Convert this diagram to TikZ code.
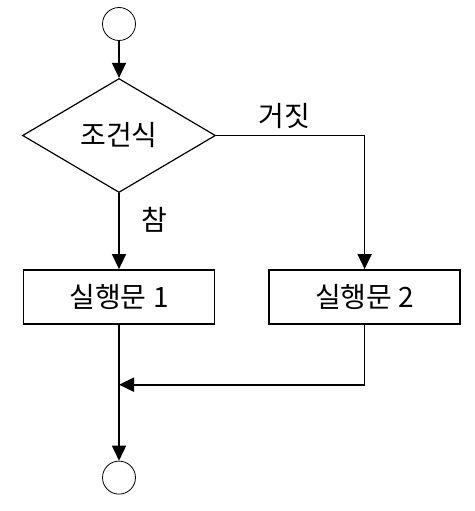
\documentclass[tikz,border=0pt]{standalone}
\usepackage{fontspec}
\setmainfont{Noto Sans CJK KR}
\usepackage{tikz}
\usetikzlibrary{shapes.geometric,arrows.meta,positioning,calc}
\tikzset{
  term/.style = {circle, draw=black, fill=white, line width=0.8bp, minimum size=33bp, inner sep=0pt},
  dec/.style  = {diamond, draw=black, line width=1.2bp, minimum width=193bp, minimum height=114bp,
                 inner sep=0pt, font=\fontsize{28bp}{32bp}\selectfont},
  proc/.style = {rectangle, draw=black, line width=1.6bp, minimum width=191bp, minimum height=54bp,
                 inner sep=0pt, font=\fontsize{28bp}{32bp}\selectfont},
  fl/.style   = {-{Triangle[length=15bp,width=14bp]}, draw=black, line width=1.6bp},
  lab/.style  = {font=\fontsize{28bp}{32bp}\selectfont, inner sep=0pt},
}
\begin{document}
\begin{tikzpicture}[x=1bp, y=-1bp]
  \useasboundingbox (0,0) rectangle (475,511);
  \node[term] (start) at (119,24) {};
  \node[dec, below=37bp of start] (cond) {조건식};
  \node[proc, below=76bp of cond] (act1) {실행문 1};
  \node[proc, right=53bp of act1] (act2) {실행문 2};
  \node[term, below=136bp of act1] (finish) {};
  \coordinate[below=60bp of act1.south] (join);

  \draw[fl] (start) -- (cond);
  \draw[fl] (cond.east) -| node[lab, pos=0.23, above=6bp] {거짓} (act2.north);
  \draw[fl] (cond.south) -- node[lab, pos=0.35, right=22bp] {참} (act1.north);
  \draw[fl] (act2.south) |- (join);
  \draw[fl] (act1.south) -- (finish);
\end{tikzpicture}
\end{document}
